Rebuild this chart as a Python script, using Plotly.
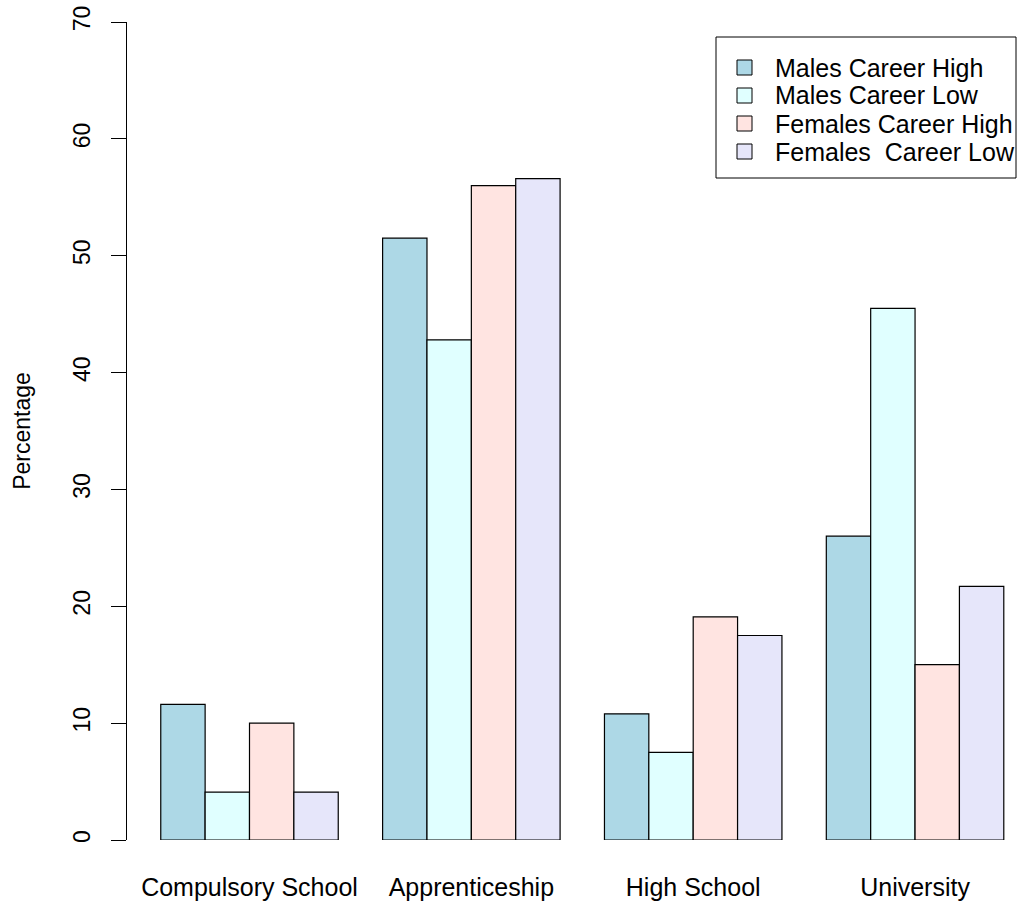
import plotly.graph_objects as go

categories = ["Compulsory School", "Apprenticeship", "High School", "University"]
series_names = ["Males Career High", "Males Career Low", "Females Career High", "Females  Career Low"]
males_high = [11.6, 51.5, 10.8, 26.0]
males_low = [4.1, 42.8, 7.5, 45.5]
females_high = [10.0, 56.0, 19.1, 15.0]
females_low = [4.1, 56.6, 17.5, 21.7]
colors = ["#ADD8E6", "#E0FFFF", "#FFE4E1", "#E6E6FA"]
y_ticks = [0, 10, 20, 30, 40, 50, 60, 70]

FONT = "Liberation Sans, Arial, Helvetica, sans-serif"

W, H = 1024, 906
ML, MT, MB, MR = 127, 22, 906 - 840, 0
PW, PH = W - ML - MR, H - MT - MB


def px(x):
    return (x - ML) / PW


def py(y):
    return (H - MB - y) / PH


fig = go.Figure()
for name, vals, col in zip(series_names, [males_high, males_low, females_high, females_low], colors):
    fig.add_trace(go.Bar(
        x=categories, y=vals, name=name,
        marker=dict(color=col, line=dict(color="black", width=1.2)),
        showlegend=False,
    ))

# legend drawn as box + swatches + labels
shapes = [dict(type="rect", xref="paper", yref="paper",
               x0=px(716), x1=px(1016), y0=py(178), y1=py(37),
               line=dict(color="black", width=1), fillcolor="white", layer="above")]
annotations = []
for i, (name, col) in enumerate(zip(series_names, colors)):
    cy = 67.5 + i * 28
    shapes.append(dict(type="rect", xref="paper", yref="paper",
                       x0=px(737), x1=px(752), y0=py(cy + 7.5), y1=py(cy - 7.5),
                       line=dict(color="black", width=1), fillcolor=col, layer="above"))
    annotations.append(dict(xref="paper", yref="paper", x=px(773), y=py(cy),
                            xanchor="left", yanchor="middle", showarrow=False,
                            text=name, font=dict(family=FONT, size=25, color="black")))

# range in category units (5 bar-widths per category, 44.37 px per bar)
cat_px = 5 * 44.37
x0 = -(249.5 - 127) / cat_px

fig.update_layout(
    width=W, height=H,
    margin=dict(l=ML, r=MR, t=MT, b=MB, autoexpand=False),
    paper_bgcolor="white", plot_bgcolor="white",
    barmode="group", bargap=0.2, bargroupgap=0,
    font=dict(family=FONT, size=24, color="black"),
    showlegend=False,
    shapes=shapes, annotations=annotations,
)
fig.update_xaxes(
    type="category", range=[x0, x0 + PW / cat_px],
    showline=False, showgrid=False, zeroline=False, ticks="",
    ticklabelstandoff=30,
    tickfont=dict(family=FONT, size=25, color="black"),
)
fig.update_yaxes(
    range=[0, 70], tickvals=y_ticks, ticktext=[str(v) for v in y_ticks],
    showline=True, linecolor="black", linewidth=1,
    ticks="outside", ticklen=15, tickcolor="black", tickwidth=1,
    tickangle=-90, ticklabelstandoff=12, ticklabeloverflow="allow",
    showgrid=False, zeroline=False,
    tickfont=dict(family=FONT, size=23, color="black"),
    title=dict(text="Percentage", standoff=31, font=dict(family=FONT, size=23, color="black")),
)

fig.write_html("out.html", config={"displayModeBar": False},
               post_script="document.body.style.margin='0';")
